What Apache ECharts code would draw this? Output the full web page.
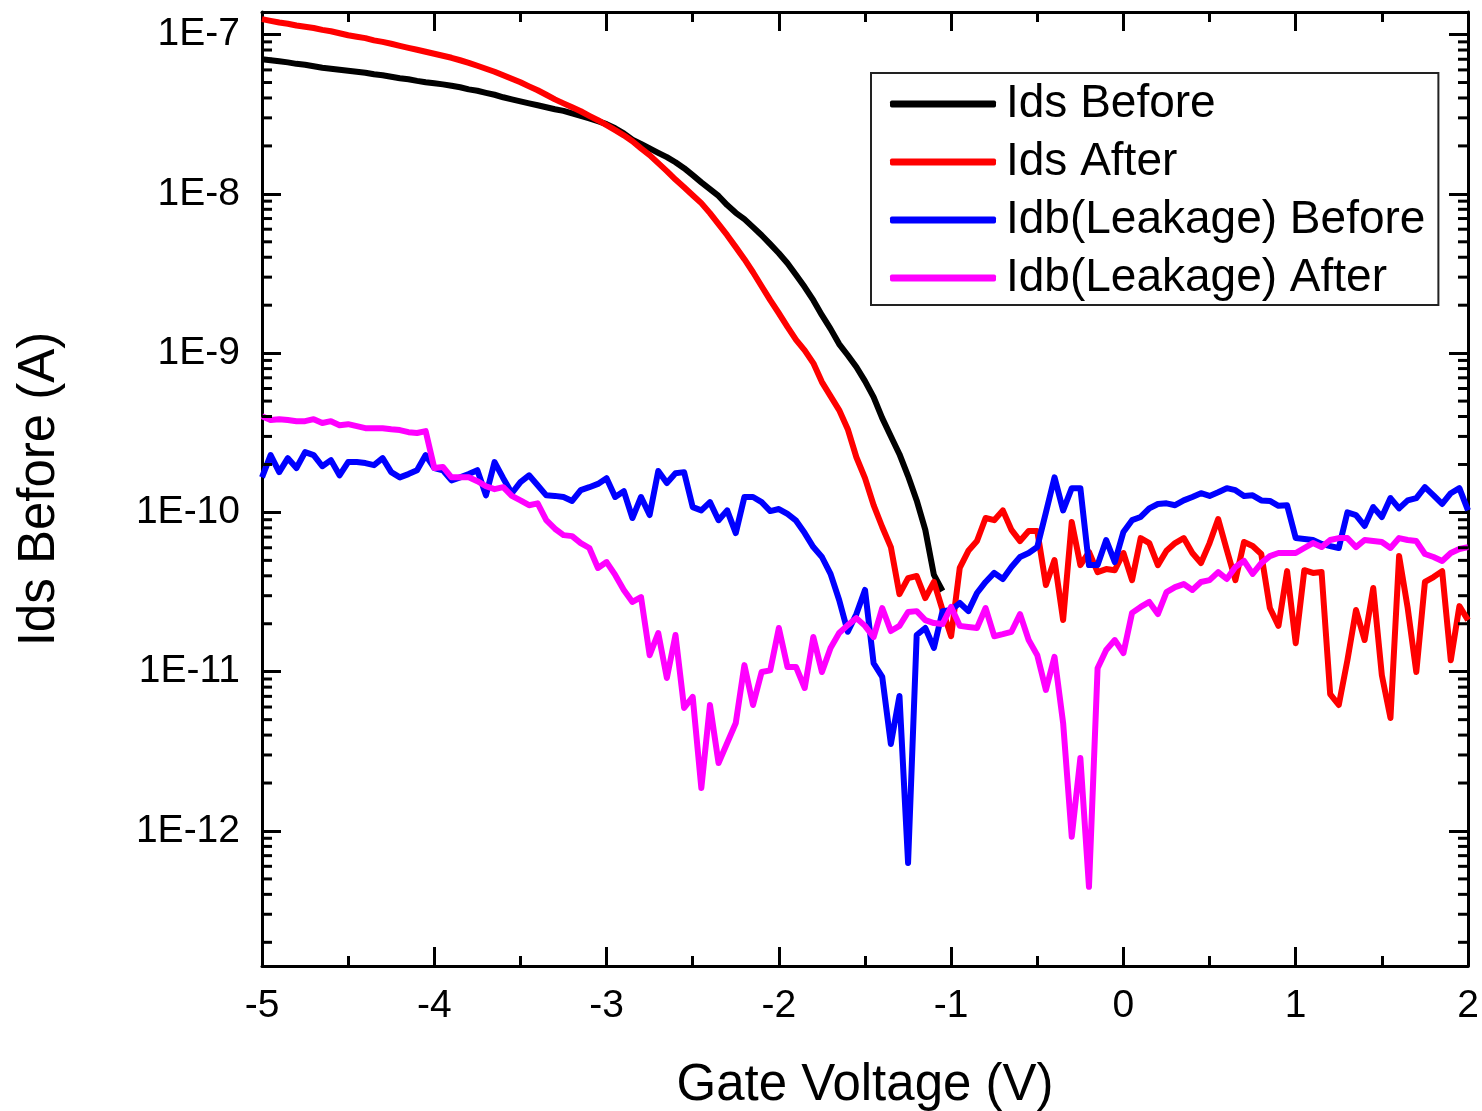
<!DOCTYPE html>
<html>
<head>
<meta charset="utf-8">
<script src="https://cdn.jsdelivr.net/npm/echarts@6/dist/echarts.min.js"></script>
<style>
  html, body { margin: 0; padding: 0; background: #ffffff; }
  #chart { width: 1482px; height: 1111px; }
</style>
</head>
<body>
<div id="chart"></div>
<script>
// ---- data ----
const gateVoltage = [-5,-4.95,-4.9,-4.85,-4.8,-4.75,-4.7,-4.65,-4.6,-4.55,-4.5,-4.45,-4.4,-4.35,-4.3,-4.25,-4.2,-4.15,-4.1,-4.05,
  -4,-3.95,-3.9,-3.85,-3.8,-3.75,-3.7,-3.65,-3.6,-3.55,-3.5,-3.45,-3.4,-3.35,-3.3,-3.25,-3.2,-3.15,-3.1,-3.05,
  -3,-2.95,-2.9,-2.85,-2.8,-2.75,-2.7,-2.65,-2.6,-2.55,-2.5,-2.45,-2.4,-2.35,-2.3,-2.25,-2.2,-2.15,-2.1,-2.05,
  -2,-1.95,-1.9,-1.85,-1.8,-1.75,-1.7,-1.65,-1.6,-1.55,-1.5,-1.45,-1.4,-1.35,-1.3,-1.25,-1.2,-1.15,-1.1,-1.05,
  -1,-0.95,-0.9,-0.85,-0.8,-0.75,-0.7,-0.65,-0.6,-0.55,-0.5,-0.45,-0.4,-0.35,-0.3,-0.25,-0.2,-0.15,-0.1,-0.05,
  0,0.05,0.1,0.15,0.2,0.25,0.3,0.35,0.4,0.45,0.5,0.55,0.6,0.65,0.7,0.75,0.8,0.85,0.9,0.95,
  1,1.05,1.1,1.15,1.2,1.25,1.3,1.35,1.4,1.45,1.5,1.55,1.6,1.65,1.7,1.75,1.8,1.85,1.9,1.95,2];

const idsBefore = [7.0e-8,6.9e-8,6.8e-8,6.69e-8,6.55e-8,6.46e-8,6.32e-8,6.19e-8,6.10e-8,6.01e-8,
  5.93e-8,5.84e-8,5.76e-8,5.63e-8,5.55e-8,5.43e-8,5.32e-8,5.24e-8,5.12e-8,5.02e-8,
  4.95e-8,4.87e-8,4.77e-8,4.67e-8,4.53e-8,4.44e-8,4.31e-8,4.19e-8,4.04e-8,3.92e-8,
  3.81e-8,3.70e-8,3.60e-8,3.50e-8,3.40e-8,3.32e-8,3.20e-8,3.09e-8,2.98e-8,2.86e-8,
  2.74e-8,2.58e-8,2.40e-8,2.19e-8,2.06e-8,1.93e-8,1.81e-8,1.70e-8,1.58e-8,1.45e-8,
  1.31e-8,1.18e-8,1.07e-8,9.7e-9,8.5e-9,7.6e-9,6.94e-9,6.18e-9,5.5e-9,4.83e-9,
  4.24e-9,3.67e-9,3.09e-9,2.60e-9,2.15e-9,1.73e-9,1.42e-9,1.14e-9,9.7e-10,8.18e-10,
  6.67e-10,5.3e-10,3.91e-10,3.01e-10,2.32e-10,1.69e-10,1.19e-10,7.77e-11,4.05e-11,3.21e-11];

const idsAfter = [1.25e-7,1.22e-7,1.19e-7,1.17e-7,1.14e-7,1.12e-7,1.10e-7,1.07e-7,1.05e-7,1.02e-7,
  9.9e-8,9.7e-8,9.5e-8,9.2e-8,9.0e-8,8.76e-8,8.5e-8,8.26e-8,8.03e-8,7.8e-8,
  7.58e-8,7.36e-8,7.15e-8,6.9e-8,6.65e-8,6.37e-8,6.1e-8,5.84e-8,5.55e-8,5.28e-8,
  5.02e-8,4.73e-8,4.47e-8,4.19e-8,3.92e-8,3.70e-8,3.50e-8,3.30e-8,3.09e-8,2.90e-8,
  2.70e-8,2.51e-8,2.33e-8,2.14e-8,1.93e-8,1.75e-8,1.56e-8,1.39e-8,1.23e-8,1.10e-8,
  9.8e-9,8.75e-9,7.57e-9,6.45e-9,5.5e-9,4.63e-9,3.89e-9,3.22e-9,2.63e-9,2.15e-9,
  1.78e-9,1.46e-9,1.21e-9,1.04e-9,8.66e-10,6.58e-10,5.37e-10,4.39e-10,3.33e-10,2.22e-10,
  1.64e-10,1.11e-10,8.1e-11,6.06e-11,3.07e-11,3.87e-11,3.99e-11,2.90e-11,3.66e-11,2.44e-11,
  1.67e-11,4.48e-11,5.74e-11,6.61e-11,9.22e-11,8.94e-11,1.03e-10,7.77e-11,6.61e-11,7.65e-11,
  7.65e-11,3.50e-11,5.02e-11,2.11e-11,8.71e-11,4.67e-11,5.64e-11,4.22e-11,4.41e-11,4.34e-11,
  5.56e-11,3.76e-11,6.90e-11,6.42e-11,4.67e-11,5.74e-11,6.42e-11,6.90e-11,5.56e-11,4.81e-11,
  6.42e-11,9.08e-11,5.81e-11,3.76e-11,6.52e-11,6.15e-11,5.48e-11,2.51e-11,1.94e-11,4.28e-11,
  1.51e-11,4.34e-11,4.17e-11,4.22e-11,7.24e-12,6.18e-12,1.18e-11,2.44e-11,1.58e-11,3.35e-11,
  9.5e-12,5.12e-12,5.32e-11,2.51e-11,9.95e-12,3.66e-11,3.93e-11,4.28e-11,1.18e-11,2.58e-11,2.11e-11];

const idbBefore = [1.66e-10,2.29e-10,1.79e-10,2.19e-10,1.90e-10,2.39e-10,2.29e-10,1.95e-10,2.13e-10,1.71e-10,
  2.07e-10,2.07e-10,2.04e-10,1.98e-10,2.19e-10,1.79e-10,1.66e-10,1.74e-10,1.84e-10,2.29e-10,
  1.90e-10,1.84e-10,1.59e-10,1.66e-10,1.74e-10,1.84e-10,1.28e-10,2.07e-10,1.64e-10,1.32e-10,
  1.55e-10,1.71e-10,1.48e-10,1.28e-10,1.27e-10,1.25e-10,1.18e-10,1.38e-10,1.44e-10,1.51e-10,
  1.64e-10,1.25e-10,1.36e-10,9.22e-11,1.25e-10,9.63e-11,1.82e-10,1.53e-10,1.76e-10,1.79e-10,
  1.08e-10,1.03e-10,1.16e-10,8.94e-11,1.03e-10,7.42e-11,1.25e-10,1.25e-10,1.16e-10,1.02e-10,
  1.05e-10,9.78e-11,8.87e-11,7.42e-11,6.06e-11,5.25e-11,4.11e-11,2.82e-11,1.78e-11,2.30e-11,
  3.26e-11,1.13e-11,9.27e-12,3.52e-12,7.04e-12,6.3e-13,1.70e-11,1.88e-11,1.41e-11,2.40e-11,
  2.44e-11,2.70e-11,2.40e-11,3.12e-11,3.66e-11,4.17e-11,3.82e-11,4.54e-11,5.25e-11,5.56e-11,
  6.06e-11,1.00e-10,1.66e-10,1.03e-10,1.42e-10,1.42e-10,4.67e-11,4.67e-11,6.71e-11,4.88e-11,
  7.54e-11,8.94e-11,9.36e-11,1.06e-10,1.13e-10,1.14e-10,1.11e-10,1.19e-10,1.25e-10,1.32e-10,
  1.27e-10,1.34e-10,1.42e-10,1.38e-10,1.27e-10,1.28e-10,1.19e-10,1.18e-10,1.10e-10,1.11e-10,
  6.90e-11,6.81e-11,6.71e-11,6.34e-11,6.15e-11,5.98e-11,1.00e-10,9.63e-11,8.22e-11,1.08e-10,
  9.36e-11,1.23e-10,1.06e-10,1.19e-10,1.23e-10,1.44e-10,1.28e-10,1.13e-10,1.32e-10,1.42e-10,1.03e-10];

const idbAfter = [4.02e-10,3.80e-10,3.85e-10,3.80e-10,3.74e-10,3.74e-10,3.85e-10,3.64e-10,3.74e-10,3.53e-10,
  3.58e-10,3.48e-10,3.38e-10,3.38e-10,3.38e-10,3.33e-10,3.29e-10,3.19e-10,3.15e-10,3.24e-10,
  1.90e-10,1.93e-10,1.66e-10,1.66e-10,1.66e-10,1.57e-10,1.46e-10,1.40e-10,1.44e-10,1.27e-10,
  1.19e-10,1.11e-10,1.14e-10,8.94e-11,7.9e-11,7.2e-11,7.1e-11,6.42e-11,5.98e-11,4.48e-11,
  4.88e-11,4.05e-11,3.26e-11,2.74e-11,2.94e-11,1.27e-11,1.75e-11,9.13e-12,1.70e-11,5.92e-12,
  6.94e-12,1.86e-12,6.18e-12,2.67e-12,3.57e-12,4.76e-12,1.10e-11,6.18e-12,9.95e-12,1.02e-11,
  1.88e-11,1.07e-11,1.07e-11,7.9e-12,1.65e-11,9.95e-12,1.41e-11,1.75e-11,1.96e-11,2.17e-11,
  1.94e-11,1.65e-11,2.51e-11,1.80e-11,1.94e-11,2.37e-11,2.40e-11,2.11e-11,2.02e-11,1.99e-11,
  2.55e-11,1.94e-11,1.91e-11,1.88e-11,2.51e-11,1.67e-11,1.72e-11,1.78e-11,2.30e-11,1.58e-11,
  1.27e-11,7.68e-12,1.24e-11,4.76e-12,9.2e-13,2.87e-12,4.46e-13,1.05e-11,1.37e-11,1.58e-11,
  1.31e-11,2.34e-11,2.55e-11,2.74e-11,2.30e-11,3.16e-11,3.40e-11,3.55e-11,3.26e-11,3.66e-11,
  3.76e-11,4.22e-11,3.82e-11,4.54e-11,4.96e-11,4.11e-11,4.81e-11,5.32e-11,5.56e-11,5.56e-11,
  5.56e-11,5.98e-11,6.42e-11,6.06e-11,6.71e-11,6.90e-11,6.90e-11,6.06e-11,6.71e-11,6.61e-11,
  6.52e-11,5.98e-11,6.90e-11,6.71e-11,6.61e-11,5.48e-11,5.25e-11,4.96e-11,5.56e-11,5.89e-11,6.06e-11];

const seriesNames = ['Ids Before', 'Ids After', 'Idb(Leakage) Before', 'Idb(Leakage) After'];
const seriesColors = ['#000000', '#ff0000', '#0000ff', '#ff00ff'];
const yMajorTicks = [1e-12, 1e-11, 1e-10, 1e-9, 1e-8, 1e-7];
const yMinorTicks = [
  2e-13, 3e-13, 4e-13, 5e-13, 6e-13, 7e-13, 8e-13, 9e-13,
  2e-12, 3e-12, 4e-12, 5e-12, 6e-12, 7e-12, 8e-12, 9e-12,
  2e-11, 3e-11, 4e-11, 5e-11, 6e-11, 7e-11, 8e-11, 9e-11,
  2e-10, 3e-10, 4e-10, 5e-10, 6e-10, 7e-10, 8e-10, 9e-10,
  2e-9, 3e-9, 4e-9, 5e-9, 6e-9, 7e-9, 8e-9, 9e-9,
  2e-8, 3e-8, 4e-8, 5e-8, 6e-8, 7e-8, 8e-8, 9e-8];
const xTitle = 'Gate Voltage (V)';
const yTitle = 'Ids Before (A)';
const xMin = -5, xMax = 2;
const yMin = 1.42e-13, yMax = 1.386e-7;

// ---- build chart ----
function pairs(ys) { return ys.map((y, i) => [gateVoltage[i], y]); }

const FONT = '"Liberation Sans", Arial, sans-serif';
const black = '#000000';
const frameLine = { show: true, onZero: false, lineStyle: { color: black, width: 3 } };

function xAx(pos, labels) {
  return {
    type: 'value', position: pos, min: xMin, max: xMax, interval: 1,
    axisLine: frameLine,
    axisTick: { show: true, inside: true, length: 19, lineStyle: { color: black, width: 3 } },
    minorTick: { show: true, splitNumber: 2, length: 10, lineStyle: { color: black, width: 3 } },
    axisLabel: { show: labels, fontSize: 39, color: black, fontFamily: FONT, margin: 21 },
    splitLine: { show: false }, minorSplitLine: { show: false },
    name: labels ? xTitle : '', nameLocation: 'middle', nameGap: 94,
    nameTextStyle: { fontSize: 51, color: black, fontFamily: FONT }
  };
}
function yAx(pos, labels) {
  const ax = {
    type: 'log', position: pos, min: yMin, max: yMax,
    axisLine: frameLine,
    axisTick: { show: true, inside: true, length: 19, customValues: yMajorTicks,
      lineStyle: { color: black, width: 3 } },
    axisLabel: { show: labels, customValues: yMajorTicks, fontSize: 39, color: black, fontFamily: FONT, margin: 22,
      formatter: v => '1E' + Math.round(Math.log10(v)) },
    splitLine: { show: false }
  };
  if (labels) {
    ax.name = yTitle; ax.nameLocation = 'middle'; ax.nameGap = 197;
    ax.nameTextStyle = { fontSize: 51, color: black, fontFamily: FONT };
  }
  return ax;
}

// short inward log minor ticks on the left and right frame, drawn as small bar symbols
function minorTickSeries(xEdge, offsetX) {
  return {
    type: 'scatter', name: 'minor ticks ' + xEdge, xAxisIndex: 0, yAxisIndex: 0,
    silent: true, clip: false, z: 10, animation: false,
    symbol: 'rect', symbolSize: [10, 3], symbolOffset: [offsetX, 0],
    itemStyle: { color: black, opacity: 1 },
    emphasis: { disabled: true },
    data: yMinorTicks.map(v => [xEdge, v])
  };
}

const allData = [idsBefore, idsAfter, idbBefore, idbAfter];
const chart = echarts.init(document.getElementById('chart'), null, { renderer: 'canvas' });
chart.setOption({
  animation: false,
  backgroundColor: '#ffffff',
  textStyle: { fontFamily: FONT },
  tooltip: { show: false },
  grid: { left: 262, right: 14, top: 12, bottom: 145, containLabel: false, outerBoundsMode: 'none' },
  xAxis: [xAx('bottom', true), xAx('top', false)],
  yAxis: [yAx('left', true), yAx('right', false)],
  legend: {
    show: true, orient: 'vertical', left: 871, top: 73,
    data: seriesNames.map(n => ({ name: n, icon: 'roundRect' })),
    selectedMode: false,
    itemWidth: 106, itemHeight: 7, itemGap: 12,
    padding: [8, 13, 4, 19],
    borderColor: '#222222', borderWidth: 2,
    backgroundColor: '#ffffff',
    textStyle: { fontSize: 46, lineHeight: 45, color: black, fontFamily: FONT, padding: [0, 0, 0, 5] }
  },
  series: seriesNames.map((name, i) => ({
    name: name, type: 'line', xAxisIndex: 0, yAxisIndex: 0,
    data: pairs(allData[i]),
    showSymbol: false, symbol: 'none',
    color: seriesColors[i],
    itemStyle: { color: seriesColors[i] },
    lineStyle: { color: seriesColors[i], width: 6, join: 'round' },
    emphasis: { disabled: true },
    z: 2 + i
  })).concat([minorTickSeries(xMin, 5), minorTickSeries(xMax, -5)])
});
</script>
</body>
</html>
